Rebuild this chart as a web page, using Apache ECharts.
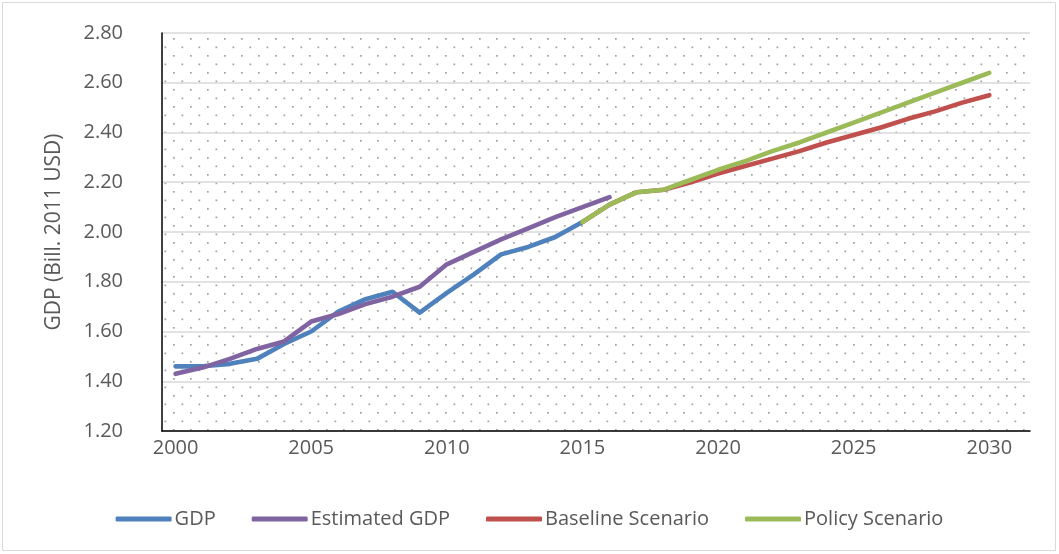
<!DOCTYPE html>
<html>
<head>
<meta charset="utf-8">
<script src="https://cdn.jsdelivr.net/npm/echarts@6/dist/echarts.min.js"></script>
<style>
  html, body { margin: 0; padding: 0; background: #fff; }
  #chart { width: 1059px; height: 554px; }
</style>
</head>
<body>
<div id="chart"></div>
<script>
// Years on the category axis (the last slot is left empty, as in the source workbook)
const years = [];
for (let y = 2000; y <= 2031; y++) years.push(String(y));

// GDP, billions of 2011 USD
const gdp = [1.46, 1.46, 1.47, 1.49, 1.55, 1.60, 1.68, 1.73, 1.76, 1.676,
             1.755, 1.83, 1.91, 1.94, 1.98, 2.04];
const estimatedGdp = [1.43, 1.455, 1.49, 1.53, 1.56, 1.64, 1.67, 1.71, 1.74, 1.78,
                      1.87, 1.92, 1.97, 2.015, 2.06, 2.10, 2.14];
// Scenario projections start in 2015
const scenarioStart = 15;
const baseline = [2.04, 2.11, 2.16, 2.17, 2.20, 2.235, 2.265, 2.295, 2.325, 2.36,
                  2.39, 2.42, 2.455, 2.485, 2.52, 2.55];
const policy = [2.04, 2.11, 2.16, 2.17, 2.21, 2.25, 2.285, 2.325, 2.36, 2.40,
                2.44, 2.48, 2.52, 2.56, 2.60, 2.64];

function place(values, start) {
  const out = years.map(() => null);
  values.forEach((v, i) => { out[start + i] = v; });
  return out;
}

// Dotted fill for the plot area
function dotPattern() {
  const c = document.createElement('canvas');
  c.width = 17; c.height = 17;
  const g = c.getContext('2d');
  g.fillStyle = '#a0a0a0';
  g.fillRect(3, 4, 1.7, 1.7);
  g.fillRect(11.5, 12.5, 1.7, 1.7);
  return c;
}

const lineStyle = (color) => ({ width: 4.6, color: color, cap: 'round', join: 'round' });

const chart = echarts.init(document.getElementById('chart'), null, { renderer: 'canvas' });
chart.setOption({
  animation: false,
  backgroundColor: '#ffffff',
  textStyle: { fontFamily: '"Open Sans", "Noto Sans", sans-serif' },
  graphic: [{
    type: 'rect',
    shape: { x: 2.5, y: 2.5, width: 1053, height: 548 },
    style: { fill: 'none', stroke: '#d9d9d9', lineWidth: 1 },
    silent: true
  }],
  grid: {
    left: 162, right: 29, top: 33, bottom: 123,
    show: true,
    borderWidth: 0,
    backgroundColor: { image: dotPattern(), repeat: 'repeat' }
  },
  legend: {
    top: 504,
    left: 'center',
    itemWidth: 56,
    itemHeight: 5,
    itemGap: 36,
    icon: 'roundRect',
    textStyle: { color: '#595959', fontSize: 20, padding: [0, 0, 0, -2] },
    data: ['GDP', 'Estimated GDP', 'Baseline Scenario', 'Policy Scenario']
  },
  xAxis: {
    type: 'category',
    data: years,
    boundaryGap: true,
    axisLine: { lineStyle: { color: '#000000', width: 1.5 } },
    axisTick: { show: false },
    axisLabel: { interval: 4, color: '#595959', fontSize: 20, margin: 7 },
    splitLine: { show: false }
  },
  yAxis: {
    type: 'value',
    min: 1.2, max: 2.8, interval: 0.2,
    name: 'GDP (Bill. 2011 USD)',
    nameLocation: 'middle',
    nameGap: 97,
    nameTextStyle: { color: '#595959', fontSize: 21 },
    axisLine: { show: true, lineStyle: { color: '#000000', width: 1.5 } },
    axisTick: { show: false },
    axisLabel: { color: '#595959', fontSize: 20, margin: 39, formatter: v => v.toFixed(2) },
    splitLine: { lineStyle: { color: '#d9d9d9', width: 1.5 } }
  },
  series: [
    { name: 'GDP', type: 'line', data: place(gdp, 0), symbol: 'none',
      color: '#4f81bd', lineStyle: lineStyle('#4f81bd'), z: 2 },
    { name: 'Estimated GDP', type: 'line', data: place(estimatedGdp, 0), symbol: 'none',
      color: '#8064a2', lineStyle: lineStyle('#8064a2'), z: 3 },
    { name: 'Baseline Scenario', type: 'line', data: place(baseline, scenarioStart), symbol: 'none',
      color: '#c0504d', lineStyle: lineStyle('#c0504d'), z: 4 },
    { name: 'Policy Scenario', type: 'line', data: place(policy, scenarioStart), symbol: 'none',
      color: '#9bbb59', lineStyle: lineStyle('#9bbb59'), z: 5 }
  ]
});
</script>
</body>
</html>
